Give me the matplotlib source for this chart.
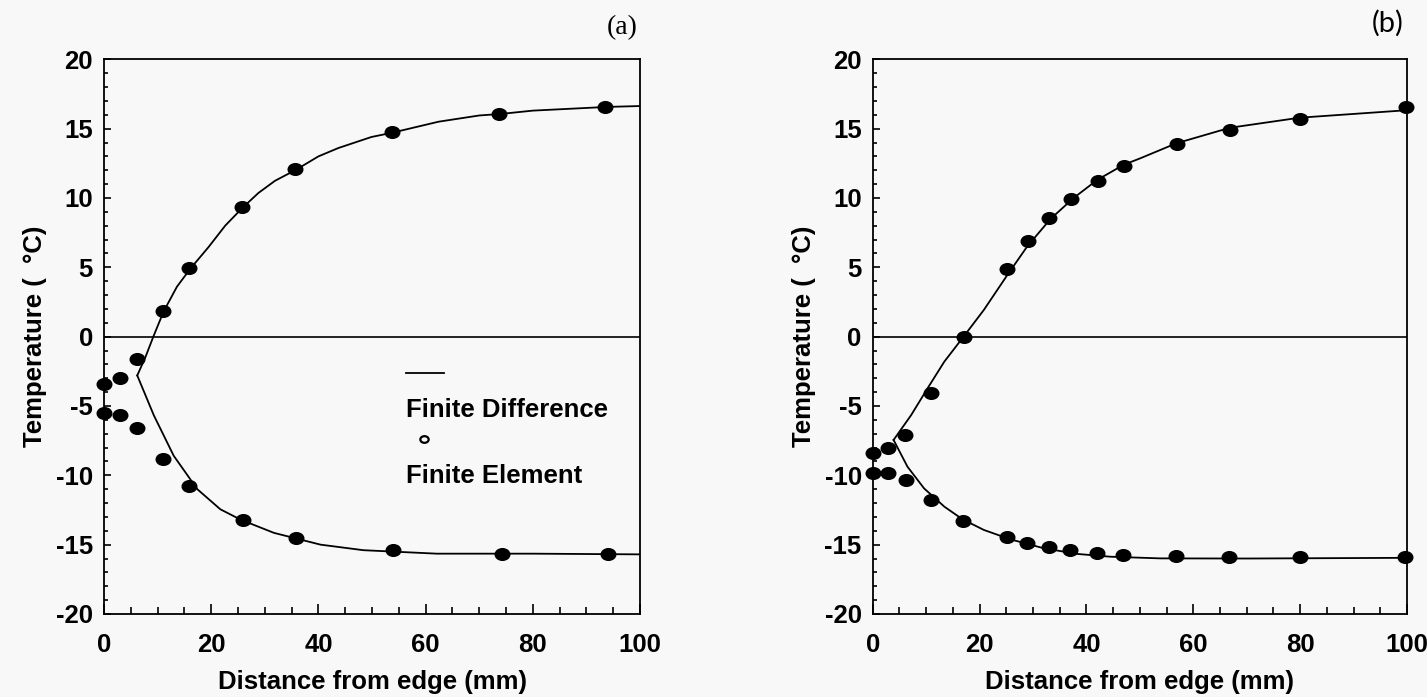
import numpy as np
import matplotlib
matplotlib.use('Agg')
import matplotlib.pyplot as plt
from matplotlib.path import Path
from matplotlib.transforms import Affine2D
from matplotlib.ticker import MultipleLocator

plt.rcParams['font.family'] = ['Liberation Sans', 'DejaVu Sans']
plt.rcParams['font.weight'] = 'bold'
plt.rcParams['axes.unicode_minus'] = False

# ---------------------------------------------------------------------------
# DATA
# ---------------------------------------------------------------------------
# (a) finite difference curves
a_fd_up_x = [6.2, 7.7, 9.2, 11.1, 13.6, 16.1, 19.5, 22.6, 25.8, 28.8, 31.9, 35.8,
             40.0, 43.7, 49.9, 53.7, 62.4, 70.0, 74.0, 80.0, 94.0, 100.0]
a_fd_up_y = [-2.8, -1.5, 0.0, 1.8, 3.6, 4.9, 6.46, 8.0, 9.28, 10.36, 11.24, 12.03,
             13.0, 13.6, 14.4, 14.7, 15.5, 15.95, 16.06, 16.3, 16.57, 16.63]
a_fd_lo_x = [6.2, 9.3, 13.0, 17.4, 21.7, 25.5, 31.7, 40.4, 48.4, 62.1, 80.0, 100.0]
a_fd_lo_y = [-2.8, -5.68, -8.59, -11.0, -12.45, -13.2, -14.15, -15.0, -15.4,
             -15.65, -15.65, -15.7]
# (a) finite element points
a_fe_up_x = [0, 2.9, 6.1, 11.0, 15.9, 25.8, 35.7, 53.7, 73.6, 93.5]
a_fe_up_y = [-3.38, -2.95, -1.6, 1.83, 4.94, 9.32, 12.07, 14.78, 16.06, 16.57]
a_fe_lo_x = [0, 3.0, 6.2, 11.0, 15.9, 25.9, 35.8, 54.0, 74.2, 94.1]
a_fe_lo_y = [-5.5, -5.68, -6.57, -8.8, -10.8, -13.22, -14.5, -15.42, -15.64, -15.64]

# (b) finite difference curves
b_fd_up_x = [3.9, 7.2, 10.3, 13.4, 17.0, 20.8, 25.2, 28.9, 33.3, 37.6, 42.0, 47.0,
             50.0, 56.8, 66.8, 79.9, 100.0]
b_fd_up_y = [-7.45, -5.65, -3.7, -1.8, 0.0, 1.93, 4.45, 6.5, 8.5, 10.0, 11.3, 12.4,
             12.85, 13.94, 15.06, 15.79, 16.33]
b_fd_lo_x = [3.9, 6.5, 9.6, 13.4, 16.8, 20.8, 25.8, 32.0, 38.3, 44.5, 53.8, 70.0, 100.0]
b_fd_lo_y = [-7.45, -9.38, -10.94, -12.26, -13.17, -13.94, -14.62, -15.26, -15.67,
             -15.87, -15.99, -16.0, -15.95]
# (b) finite element points
b_fe_up_x = [0, 2.8, 6.1, 10.9, 17.0, 25.2, 29.1, 33.0, 37.1, 42.1, 47.1, 57.0,
             66.8, 79.9, 99.8]
b_fe_up_y = [-8.37, -8.0, -7.09, -4.04, -0.05, 4.86, 6.9, 8.53, 9.9, 11.25, 12.33,
             13.88, 14.93, 15.69, 16.59]
b_fe_lo_x = [0, 2.8, 6.2, 10.9, 16.8, 25.1, 28.9, 32.9, 36.9, 41.9, 46.8, 56.8,
             66.7, 79.9, 99.7]
b_fe_lo_y = [-9.8, -9.86, -10.34, -11.78, -13.3, -14.47, -14.86, -15.19, -15.38,
             -15.58, -15.75, -15.79, -15.89, -15.92, -15.92]

xlabel = 'Distance from edge (mm)'
ylabel = 'Temperature (  °C)'
legend_labels = ['Finite Difference', 'Finite Element']

# ---------------------------------------------------------------------------
bg = '#f8f8f8'
fs = 18.5
ell = Path.unit_circle().transformed(Affine2D().scale(1.0, 0.8))

fig = plt.figure(figsize=(14.27, 6.97), dpi=100, facecolor=bg)
axA = fig.add_axes([0.0729, 0.1191, 0.3756, 0.7958])
axB = fig.add_axes([0.6116, 0.1191, 0.3744, 0.7958])


def style_axes(ax):
    ax.set_facecolor(bg)
    ax.set_xlim(0, 100)
    ax.set_ylim(-20, 20)
    ax.xaxis.set_major_locator(MultipleLocator(20))
    ax.xaxis.set_minor_locator(MultipleLocator(5))
    ax.yaxis.set_major_locator(MultipleLocator(5))
    ax.yaxis.set_minor_locator(MultipleLocator(1))
    ax.tick_params(which='both', direction='in', top=False, right=False,
                   width=1.2, labelsize=fs)
    ax.tick_params(axis='x', which='major', length=7, pad=14)
    ax.tick_params(axis='x', which='minor', length=5)
    ax.tick_params(axis='y', which='major', length=5, pad=8)
    ax.tick_params(axis='y', which='minor', length=3)
    for lab in ax.get_xticklabels() + ax.get_yticklabels():
        lab.set_fontweight('bold')
    for s in ax.spines.values():
        s.set_linewidth(1.3)
    ax.axhline(0, color='black', lw=1.2)
    ax.set_xlabel(xlabel, fontsize=fs, fontweight='bold', labelpad=9)
    ax.set_ylabel(ylabel, fontsize=fs, fontweight='bold', labelpad=6)


for ax in (axA, axB):
    style_axes(ax)

# panel (a)
axA.plot(a_fd_up_x, a_fd_up_y, color='black', lw=1.3)
axA.plot(a_fd_lo_x, a_fd_lo_y, color='black', lw=1.3)
axA.plot(a_fe_up_x, a_fe_up_y, ls='none', marker=ell, ms=10.5, color='black', clip_on=False)
axA.plot(a_fe_lo_x, a_fe_lo_y, ls='none', marker=ell, ms=10.5, color='black', clip_on=False)

# panel (b)
axB.plot(b_fd_up_x, b_fd_up_y, color='black', lw=1.3)
axB.plot(b_fd_lo_x, b_fd_lo_y, color='black', lw=1.3)
axB.plot(b_fe_up_x, b_fe_up_y, ls='none', marker=ell, ms=10.5, color='black', clip_on=False)
axB.plot(b_fe_lo_x, b_fe_lo_y, ls='none', marker=ell, ms=10.5, color='black', clip_on=False)

# odd stacked legend inside (a)
axA.plot([0.563, 0.634], [0.434, 0.434], color='black', lw=1.3, transform=axA.transAxes)
axA.text(0.564, 0.367, legend_labels[0], transform=axA.transAxes, fontsize=fs,
         fontweight='bold', va='center', ha='left')
axA.plot([0.597], [0.316], ls='none', marker=ell, ms=6, mfc='none', mec='black',
         mew=1.6, transform=axA.transAxes)
axA.text(0.564, 0.249, legend_labels[1], transform=axA.transAxes, fontsize=fs,
         fontweight='bold', va='center', ha='left')

# panel tags
fig.text(0.4465, 0.96, '(a)', fontsize=20, family='Liberation Serif',
         fontweight='normal', ha='right', va='center')
fig.text(0.9835, 0.966, '(b)', fontsize=21, family='Lato',
         fontweight='normal', ha='right', va='center')

fig.savefig('out.png', dpi=100, facecolor=bg)
